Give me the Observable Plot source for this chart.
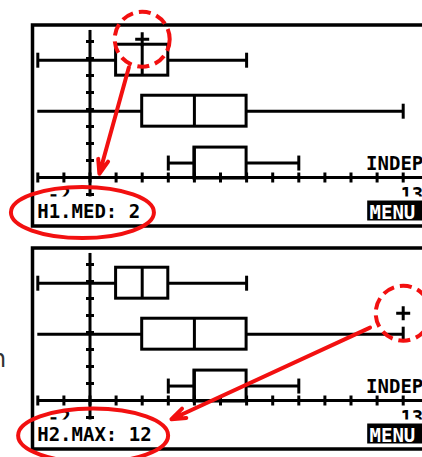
<!DOCTYPE html>
<html><head><meta charset="utf-8">
<script src="https://cdn.jsdelivr.net/npm/d3@7"></script>
<script src="https://cdn.jsdelivr.net/npm/@observablehq/plot@0.6"></script>
<style>
html,body{margin:0;padding:0;background:#fff;overflow:hidden;}
#wrap{position:relative;width:422px;height:457px;overflow:hidden;background:#fff;}
#side{position:absolute;left:-9px;top:347px;font:24px/24px "DejaVu Sans",sans-serif;color:#333;}
</style></head><body>
<div id="wrap"><div id="side">n</div></div>
<script>
// ---- Calculator window ----
const windowX = [-2, 13];
const windowYTop = 8.65;

// ---- Box plots (top to bottom): five-number summaries ----
const plotIds = ["plot1", "plot2", "plot3"];
const plotRow = [6.9, 3.9, 0.85];
const plotMin = [-2, -3, 3];
const plotQ1 = [1, 2, 4];
const plotMedian = [2, 4, 4];
const plotQ3 = [3, 6, 6];
const plotMax = [6, 12, 8];

// ---- Screens: trace read-outs ----
const screenLabels = ["H1.MED: 2", "H2.MAX: 12"];
const cursorPlot = [0, 1];
const cursorValue = [2, 12];
const axisTitle = "INDEP";
const menuLabel = "MENU";

// ---- Red annotations (data coordinates) ----
const arrowStartX = [1.49, 10.73];
const arrowStartY = [6.49, 4.29];
const arrowEndX = [0.36, 3.12];
const arrowEndY = [0.22, -1.1];
const ringX = [-0.29, 0.12];
const ringY = [-2.06, -2.06];

// ---- styles ----
const RED = "#f21010";
const ringRx = [71.5, 75], ringRy = [25.5, 27];
const BOXHALF = 0.91;
const font = {fontFamily: "DejaVu Sans Mono", fontWeight: "bold", fontSize: 19};
const ink = {stroke: "black", strokeWidth: 3};

const boxes = plotIds.map((id, i) => ({
  id, row: plotRow[i], min: plotMin[i], q1: plotQ1[i], med: plotMedian[i], q3: plotQ3[i], max: plotMax[i]
}));
const [xmin, xmax] = windowX;

function vLine(len) { return {draw(c) { c.moveTo(0, -len / 2); c.lineTo(0, len / 2); }}; }
function hLine(len) { return {draw(c) { c.moveTo(-len / 2, 0); c.lineTo(len / 2, 0); }}; }
function cross(len) { return {draw(c) { c.moveTo(-len / 2, 0); c.lineTo(len / 2, 0); c.moveTo(0, -len / 2); c.lineTo(0, len / 2); }}; }
function ellipse(rx, ry) {
  const k = 0.5522847498;
  return {draw(c) {
    c.moveTo(rx, 0);
    c.bezierCurveTo(rx, k * ry, k * rx, ry, 0, ry);
    c.bezierCurveTo(-k * rx, ry, -rx, k * ry, -rx, 0);
    c.bezierCurveTo(-rx, -k * ry, -k * rx, -ry, 0, -ry);
    c.bezierCurveTo(k * rx, -ry, rx, -k * ry, rx, 0);
    c.closePath();
  }};
}

function screen(k, top) {
  const cursor = boxes[cursorPlot[k]];
  return Plot.plot({
    width: 440, height: 240,
    marginTop: 24.5, marginBottom: 14.5, marginLeft: 32, marginRight: 14,
    x: {domain: windowX, range: [37.3, 428.8], axis: null},
    y: {domain: [0, 8], range: [177, 41], axis: null},
    style: `max-width:none;overflow:visible;background:transparent;position:absolute;left:0;top:${top}px;`,
    marks: [
      // axes
      Plot.ruleY([0], {x1: xmin, x2: xmax, ...ink}),
      Plot.dot(d3.range(xmin, xmax + 1), {x: d => d, y: 0, symbol: vLine(10), fill: "none", ...ink}),
      Plot.ruleX([0], {y1: -2.85, y2: windowYTop, ...ink}),
      Plot.dot(d3.range(-2, 9), {x: 0, y: d => d, symbol: hLine(8), fill: "none", ...ink}),
      // box plots
      Plot.ruleY(boxes, {y: "row", x1: d => Math.max(d.min, xmin), x2: "q1", ...ink}),
      Plot.ruleY(boxes, {y: "row", x1: "q3", x2: "max", ...ink}),
      Plot.rect(boxes, {x1: "q1", x2: "q3", y1: d => d.row - BOXHALF, y2: d => d.row + BOXHALF, fill: "none", ...ink}),
      Plot.ruleX(boxes, {x: "med", y1: d => d.row - BOXHALF, y2: d => d.row + BOXHALF, ...ink}),
      Plot.dot(boxes.filter(d => d.min >= xmin), {x: "min", y: "row", symbol: vLine(15), fill: "none", ...ink}),
      Plot.dot(boxes, {x: "max", y: "row", symbol: vLine(15), fill: "none", ...ink}),
      // trace cursor
      Plot.dot([cursor], {x: () => cursorValue[k], y: "row", dy: -21, symbol: cross(14), fill: "none", ...ink}),
      // window labels
      Plot.text([xmin], {x: d => d, y: 0, text: d => String(d), dx: 10, dy: 23, textAnchor: "start", lineAnchor: "bottom", fill: "black", ...font}),
      Plot.text([xmax], {x: d => d, y: 0, text: d => String(d), dx: -6, dy: 23, textAnchor: "end", lineAnchor: "bottom", fill: "black", ...font}),
      Plot.text([axisTitle], {x: xmax, y: 0, text: d => d, dx: -6, dy: -7.5, textAnchor: "end", lineAnchor: "bottom", fill: "black", ...font}),
      // status bar
      Plot.frame({fill: "white", stroke: "none", insetTop: 171.5}),
      Plot.frame({fill: "black", stroke: "none", insetTop: 175.5, insetBottom: 5.5, insetLeft: 334.7}),
      Plot.text([menuLabel], {frameAnchor: "bottom-left", text: d => d, dx: 337, dy: -6.8, textAnchor: "start", lineAnchor: "bottom", fill: "white", ...font}),
      Plot.text([screenLabels[k]], {frameAnchor: "bottom-left", text: d => d, dx: 4.7, dy: -8.2, textAnchor: "start", lineAnchor: "bottom", fill: "black", ...font}),
      Plot.frame({stroke: "black", strokeWidth: 3.5}),
      // red annotations
      Plot.dot([cursor], {x: () => cursorValue[k], y: "row", dy: -21, r: 27.5, fill: "none", stroke: RED, strokeWidth: 4, strokeDasharray: "12,6"}),
      Plot.arrow([k], {x1: i => arrowStartX[i], y1: i => arrowStartY[i], x2: i => arrowEndX[i], y2: i => arrowEndY[i],
        stroke: RED, strokeWidth: 4, headLength: 5.6, headAngle: 40}),
      Plot.dot([k], {x: i => ringX[i], y: i => ringY[i], symbol: ellipse(ringRx[k], ringRy[k]), fill: "none", stroke: RED, strokeWidth: 4})
    ]
  });
}

const wrap = document.getElementById("wrap");
wrap.append(screen(0, 0));
wrap.append(screen(1, 223));
</script>
</body></html>
